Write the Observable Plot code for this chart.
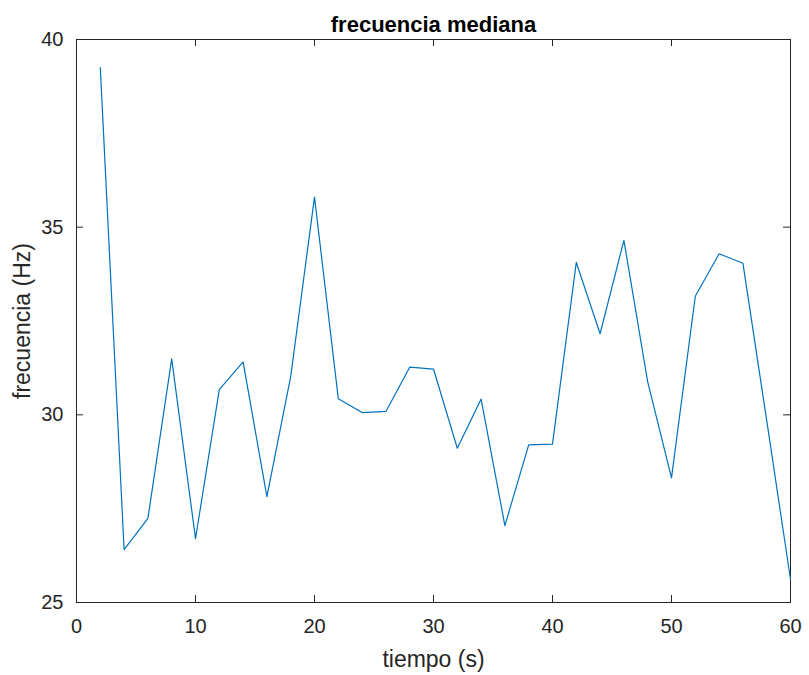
<!DOCTYPE html>
<html>
<head>
<meta charset="utf-8">
<script src="https://cdn.jsdelivr.net/npm/d3@7"></script>
<script src="https://cdn.jsdelivr.net/npm/@observablehq/plot@0.6"></script>
<style>
  html, body { margin: 0; padding: 0; background: #fff; }
</style>
</head>
<body>
<div id="chart"></div>
<script>
// Data
const tiempo = [2, 4, 6, 8, 10, 12, 14, 16, 18, 20, 22, 24, 26, 28, 30, 32, 34, 36, 38, 40, 42, 44, 46, 48, 50, 52, 54, 56, 58, 60];
const frecuencia = [39.25, 26.41, 27.24, 31.49, 26.70, 30.67, 31.41, 27.82, 31.02, 35.80, 30.43, 30.06, 30.09, 31.27, 31.22, 29.11, 30.42, 27.05, 29.20, 29.22, 34.06, 32.16, 34.65, 30.88, 28.32, 33.16, 34.29, 34.04, 29.85, 25.62];
const xTicks = [0, 10, 20, 30, 40, 50, 60];
const yTicks = [25, 30, 35, 40];
const xDomain = [0, 60];
const yDomain = [25, 40];
const title = "frecuencia mediana";
const xLabel = "tiempo (s)";
const yLabel = "frecuencia (Hz)";

const data = tiempo.map((t, i) => ({t, f: frecuencia[i]}));
const ink = "#262626";
const tickLen = 7;

const chart = Plot.plot({
  width: 809,
  height: 675,
  marginLeft: 76,
  marginRight: 19,
  marginTop: 39,
  marginBottom: 73,
  style: {fontFamily: "'Liberation Sans', Arial, Helvetica, sans-serif", color: ink, background: "#fff"},
  x: {domain: xDomain, ticks: xTicks, label: null},
  y: {domain: yDomain, ticks: yTicks, label: null},
  marks: [
    Plot.frame({stroke: ink, strokeWidth: 1}),
    // inward ticks: bottom, top, left, right
    Plot.ruleX(xTicks, {x: d => d, y1: () => yDomain[0], y2: () => yDomain[0], insetTop: -tickLen, stroke: ink}),
    Plot.ruleX(xTicks, {x: d => d, y1: () => yDomain[1], y2: () => yDomain[1], insetBottom: -tickLen, stroke: ink}),
    Plot.ruleY(yTicks, {y: d => d, x1: () => xDomain[0], x2: () => xDomain[0], insetRight: -tickLen, stroke: ink}),
    Plot.ruleY(yTicks, {y: d => d, x1: () => xDomain[1], x2: () => xDomain[1], insetLeft: -tickLen, stroke: ink}),
    Plot.axisX(xTicks, {anchor: "bottom", tickSize: 0, tickPadding: 16, fontSize: 20, label: null, fill: ink}),
    Plot.axisY(yTicks, {anchor: "left", tickSize: 0, tickPadding: 13, fontSize: 20, label: null, fill: ink}),
    Plot.line(data, {x: "t", y: "f", stroke: "#0072BD", strokeWidth: 1.2}),
    Plot.text([title], {frameAnchor: "top", dy: -15, fontSize: 22, fontWeight: "bold", fill: "#000", lineAnchor: "middle"}),
    Plot.text([xLabel], {frameAnchor: "bottom", dy: 57, fontSize: 23, fill: ink, lineAnchor: "middle"}),
    Plot.text([yLabel], {frameAnchor: "left", dx: -54, rotate: -90, fontSize: 23, fill: ink, textAnchor: "middle", lineAnchor: "middle"})
  ]
});
document.getElementById("chart").appendChild(chart);
</script>
</body>
</html>
